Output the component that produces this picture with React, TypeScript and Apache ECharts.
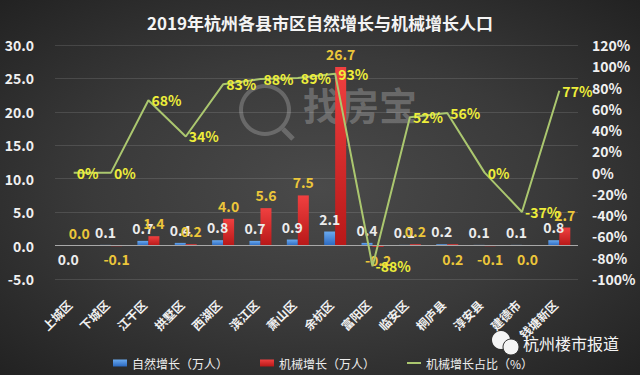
import React, { useEffect, useRef } from "react";
import * as echarts from "echarts";

const categories = ["上城区", "下城区", "江干区", "拱墅区", "西湖区", "滨江区", "萧山区", "余杭区", "富阳区", "临安区", "桐庐县", "淳安县", "建德市", "钱塘新区"];
const naturalGrowth = [0.0, 0.1, 0.7, 0.4, 0.8, 0.7, 0.9, 2.1, 0.4, 0.1, 0.2, 0.1, 0.1, 0.8];
const mechanicalGrowth = [0.0, -0.1, 1.4, 0.2, 4.0, 5.6, 7.5, 26.7, -0.2, 0.2, 0.2, -0.1, 0.0, 2.7];
const mechanicalShare = [0, 0, 68, 34, 83, 88, 89, 93, -88, 52, 56, 0, -37, 77];
// label placement flags (true = label below the bar)
const naturalBelow = [true, false, false, false, false, false, false, false, false, false, false, false, false, false];
const mechanicalBelow = [false, true, false, false, false, false, false, false, true, false, true, true, true, false];

const FONT = "'Noto Sans CJK SC', 'Noto Sans', sans-serif";

export default function App() {
  const ref = useRef<HTMLDivElement>(null);
  useEffect(() => {
    if (!ref.current) return;
    const chart = echarts.init(ref.current, undefined, { renderer: "svg" });
    const fmt1 = (p: any) => Number(p.value).toFixed(1);
    chart.setOption({
      animation: false,
      backgroundColor: "transparent",
      textStyle: { fontFamily: FONT },
      title: {
        text: "2019年杭州各县市区自然增长与机械增长人口",
        left: "center",
        top: 9,
        textStyle: { color: "#f4f4f4", fontSize: 17, fontWeight: "bold", fontFamily: FONT },
      },
      grid: { left: 55, right: 62, top: 45, bottom: 96, containLabel: false },
      legend: {
        left: 108,
        top: 352,
        itemGap: 32,
        itemWidth: 14,
        itemHeight: 7,
        textStyle: { color: "#eeeeee", fontSize: 12, fontFamily: FONT },
        data: [
          { name: "自然增长（万人）", icon: "rect" },
          { name: "机械增长（万人）", icon: "rect" },
          { name: "机械增长占比（%）", icon: "path://M0,0H14V2H0Z" },
        ],
      },
      xAxis: {
        type: "category",
        data: categories,
        axisLine: { show: false },
        axisTick: { show: false },
        axisLabel: {
          rotate: 45,
          color: "#f0f0f0",
          fontSize: 12,
          fontWeight: "bold",
          margin: 19,
          padding: [0, 6, 0, 0],
          interval: 0,
          fontFamily: FONT,
        },
        splitLine: { show: false },
      },
      yAxis: [
        {
          type: "value",
          min: -5,
          max: 30,
          interval: 5,
          axisLine: { show: false },
          axisTick: { show: false },
          axisLabel: { color: "#f0f0f0", fontSize: 14, fontWeight: "bold", margin: 21, formatter: (v: number) => v.toFixed(1), fontFamily: FONT },
          splitLine: { lineStyle: { color: "rgba(255,255,255,0.12)", width: 1 } },
        },
        {
          type: "value",
          min: -100,
          max: 120,
          interval: 20,
          position: "right",
          axisLine: { show: false },
          axisTick: { show: false },
          axisLabel: { color: "#f0f0f0", fontSize: 14, fontWeight: "bold", margin: 14, formatter: "{value}%", fontFamily: FONT },
          splitLine: { show: false },
        },
      ],
      graphic: [
        {
          type: "ring",
          shape: { cx: 265, cy: 110, r: 26, r0: 22 },
          style: { fill: "rgba(200,200,200,0.3)" },
          silent: true,
        },
        {
          type: "line",
          shape: { x1: 283, y1: 129, x2: 293, y2: 139 },
          style: { stroke: "rgba(200,200,200,0.3)", lineWidth: 5 },
          silent: true,
        },
        {
          type: "text",
          x: 303,
          y: 84,
          style: { text: "找房宝", fill: "rgba(200,200,200,0.32)", font: `bold 38px ${FONT}` },
          silent: true,
        },
        {
          type: "circle",
          shape: { cx: 501, cy: 340, r: 9 },
          style: { fill: "#f4f4f4" },
          silent: true,
        },
        {
          type: "circle",
          shape: { cx: 511, cy: 347, r: 8 },
          style: { fill: "#f4f4f4", stroke: "#333", lineWidth: 1 },
          silent: true,
        },
        {
          type: "text",
          x: 523,
          y: 335,
          style: { text: "杭州楼市报道", fill: "#f4f4f4", font: `16px ${FONT}` },
          silent: true,
        },
      ],
      series: [
        {
          name: "自然增长（万人）",
          type: "bar",
          barWidth: 11,
          barGap: "0%",
          data: naturalGrowth.map((v, i) => ({
            value: v,
            label: { position: naturalBelow[i] ? "bottom" : "top" },
          })),
          itemStyle: {
            color: new echarts.graphic.LinearGradient(0, 0, 0, 1, [
              { offset: 0, color: "#6aaaf0" },
              { offset: 1, color: "#2a68c0" },
            ]),
          },
          label: { show: true, color: "#ececec", fontSize: 14, fontWeight: "bold", distance: 6, formatter: fmt1, fontFamily: FONT },
          markLine: {
            silent: true,
            symbol: "none",
            label: { show: false },
            lineStyle: { color: "#a8a8a8", type: "solid", width: 1 },
            data: [{ yAxis: 0 }],
          },
        },
        {
          name: "机械增长（万人）",
          type: "bar",
          barWidth: 11,
          barGap: "0%",
          data: mechanicalGrowth.map((v, i) => ({
            value: v,
            label: { position: mechanicalBelow[i] ? "bottom" : "top" },
          })),
          itemStyle: {
            color: new echarts.graphic.LinearGradient(0, 0, 0, 1, [
              { offset: 0, color: "#f04040" },
              { offset: 1, color: "#b81818" },
            ]),
          },
          label: { show: true, color: "#ecc63a", fontSize: 14, fontWeight: "bold", distance: 6, formatter: fmt1, fontFamily: FONT },
        },
        {
          name: "机械增长占比（%）",
          type: "line",
          yAxisIndex: 1,
          symbol: "circle",
          symbolSize: 0.1,
          showSymbol: true,
          data: mechanicalShare,
          lineStyle: { color: "#abc76f", width: 2 },
          itemStyle: { color: "#abc76f" },
          label: { show: true, position: "right", distance: 3, color: "#eeee3a", fontSize: 14, fontWeight: "bold", formatter: "{c}%", fontFamily: FONT },
          labelLayout: { hideOverlap: false },
          z: 5,
        },
      ],
    });
    return () => chart.dispose();
  }, []);
  return (
    <div
      style={{
        position: "absolute",
        left: 0,
        top: 0,
        width: 640,
        height: 375,
        background: "radial-gradient(ellipse at 50% 50%, #4a4a4a 0%, #3a3a3a 50%, #222222 100%)",
      }}
    >
      <div ref={ref} style={{ width: 640, height: 375 }} />
    </div>
  );
}
